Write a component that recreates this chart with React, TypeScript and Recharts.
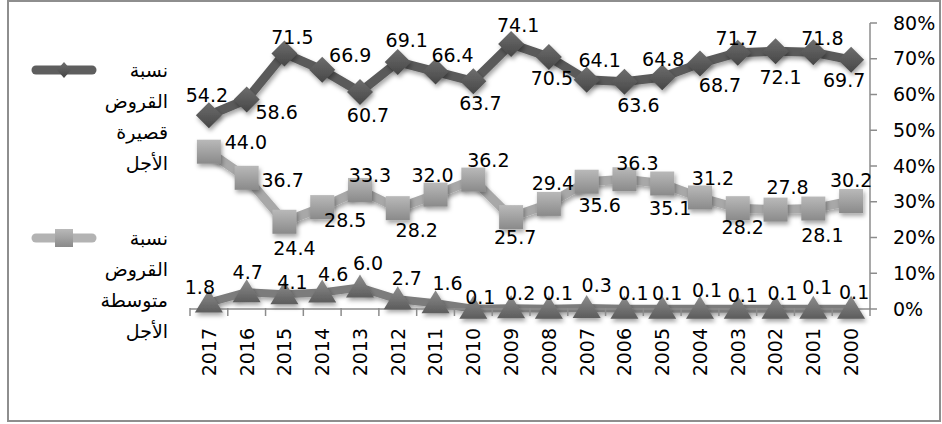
import { LineChart, Line, XAxis, YAxis, LabelList } from 'recharts'

// loan maturity shares (%), newest year first
const years = ['2017', '2016', '2015', '2014', '2013', '2012', '2011', '2010', '2009', '2008', '2007', '2006', '2005', '2004', '2003', '2002', '2001', '2000']
const shortTerm = [54.2, 58.6, 71.5, 66.9, 60.7, 69.1, 66.4, 63.7, 74.1, 70.5, 64.1, 63.6, 64.8, 68.7, 71.7, 72.1, 71.8, 69.7]
const mediumTerm = [44.0, 36.7, 24.4, 28.5, 33.3, 28.2, 32.0, 36.2, 25.7, 29.4, 35.6, 36.3, 35.1, 31.2, 28.2, 27.8, 28.1, 30.2]
const longTerm = [1.8, 4.7, 4.1, 4.6, 6.0, 2.7, 1.6, 0.1, 0.2, 0.1, 0.3, 0.1, 0.1, 0.1, 0.1, 0.1, 0.1, 0.1]
const yTicks = [0, 10, 20, 30, 40, 50, 60, 70, 80]

const shortName = 'نسبة القروض قصيرة الأجل'
const mediumName = 'نسبة القروض متوسطة الأجل'

// hand-placed label offsets (dx, dy) from each point
const shortNudge: [number, number][] = [
  [-2, -20], [30, 12], [8, -16], [28, -15], [8, 23], [9, -22], [17, -17], [7, 22], [7, -19],
  [3, 21], [13, -20], [14, 23], [1, -18], [20, 22], [-1, -15], [5, 26], [9, -14], [-7, 20],
]
const mediumNudge: [number, number][] = [
  [37, -10], [36, 2], [10, 26], [23, 13], [10, -15], [19, 22], [-3, -20], [15, -20], [4, 20],
  [4, -21], [13, 23], [13, -16], [8, 24], [13, -19], [5, 19], [12, -23], [9, 26], [0, -21],
]
const longNudge: [number, number][] = [
  [-9, -16], [1, -20], [8, -12], [11, -19], [8, -25], [9, -21], [12, -20], [7, -12], [9, -15],
  [9, -16], [10, -23], [9, -16], [5, -16], [7, -19], [5, -14], [7, -16], [4, -22], [3, -17],
]

const data = years.map((year, i) => ({
  year,
  short: shortTerm[i],
  medium: mediumTerm[i],
  long: longTerm[i],
}))

const FONT = '"DejaVu Sans", "Noto Sans", sans-serif'
const FS = 19
const W = 942
const H = 424
const M = { top: 23, right: 0, bottom: 0, left: 190 }
const Y_AXIS_W = 72
const BAND = (W - M.left - M.right - Y_AXIS_W) / years.length

const Diamond = ({ cx, cy, r = 13 }: any) => (
  <polygon
    points={`${cx},${cy - r} ${cx + r},${cy} ${cx},${cy + r} ${cx - r},${cy}`}
    fill="url(#gDiamond)"
    filter="url(#markShadow)"
  />
)

const Square = ({ cx, cy, s = 12 }: any) => (
  <rect x={cx - s} y={cy - s} width={s * 2} height={s * 2} fill="url(#gSquare)" filter="url(#markShadow)" />
)

const Triangle = ({ cx, cy }: any) => (
  <polygon
    points={`${cx},${cy - 13} ${cx + 14},${cy + 10} ${cx - 14},${cy + 10}`}
    fill="url(#gTriangle)"
    filter="url(#markShadow)"
  />
)

const makeLabel = (nudge: [number, number][]) => (props: any) => {
  const { x, y, value, index } = props
  const [dx, dy] = nudge[index] ?? [0, -18]
  return (
    <text
      x={x + dx}
      y={y + dy}
      textAnchor="middle"
      dominantBaseline="central"
      fontSize={FS}
      fontFamily={FONT}
      fill="#000"
    >
      {Number(value).toFixed(1)}
    </text>
  )
}

const YearTick = ({ x, y, payload, index }: any) => {
  const half = BAND / 2
  return (
    <g>
      <line x1={x - half} y1={y - 1} x2={x - half} y2={y + 7} stroke="#8c8c8c" strokeWidth={1.5} />
      {index === years.length - 1 && (
        <line x1={x + half} y1={y - 1} x2={x + half} y2={y + 7} stroke="#8c8c8c" strokeWidth={1.5} />
      )}
      <text
        transform={`translate(${x},${y + 19}) rotate(-90)`}
        textAnchor="end"
        dy="0.36em"
        fontSize={FS}
        fontFamily={FONT}
        fill="#000"
      >
        {payload.value}
      </text>
    </g>
  )
}

const LegendEntry = ({ top, name, color, marker }: any) => (
  <>
    <svg style={{ position: 'absolute', left: 30, top: top - 15 }} width={68} height={30}>
      <line x1={6} y1={15} x2={62} y2={15} stroke={color} strokeWidth={9} strokeLinecap="round" />
      {marker}
    </svg>
    <div
      style={{
        position: 'absolute',
        left: 88,
        top: top - 15.5,
        width: 80,
        textAlign: 'right',
        direction: 'rtl',
        fontFamily: FONT,
        fontSize: 19,
        lineHeight: '31px',
        color: '#000',
      }}
    >
      {name.split(' ').map((w: string) => (
        <div key={w}>{w}</div>
      ))}
    </div>
  </>
)

export default function App() {
  return (
    <div style={{ position: 'absolute', left: 0, top: 0, width: W, height: H, background: '#fff' }}>
      <svg width={0} height={0} style={{ position: 'absolute' }}>
        <defs>
          <linearGradient id="gDiamond" x1="0" y1="0" x2="0" y2="1">
            <stop offset="0%" stopColor="#6e6e6e" />
            <stop offset="100%" stopColor="#464646" />
          </linearGradient>
          <linearGradient id="gSquare" x1="0" y1="0" x2="0" y2="1">
            <stop offset="0%" stopColor="#b9b9b9" />
            <stop offset="100%" stopColor="#8a8a8a" />
          </linearGradient>
          <linearGradient id="gTriangle" x1="0" y1="0" x2="0" y2="1">
            <stop offset="0%" stopColor="#8e8e8e" />
            <stop offset="100%" stopColor="#5c5c5c" />
          </linearGradient>
          <filter id="markShadow" x="-50%" y="-50%" width="200%" height="200%">
            <feDropShadow dx="1.5" dy="3" stdDeviation="2.2" floodColor="#000" floodOpacity="0.35" />
          </filter>
        </defs>
      </svg>

      <div
        style={{
          position: 'absolute',
          left: 7,
          top: 0,
          width: 934,
          height: 422,
          border: '2px solid #8e8e8e',
          boxSizing: 'border-box',
        }}
      />

      <div style={{ position: 'absolute', left: 0, top: 0 }}>
        <LineChart width={W} height={H} data={data} margin={M}>
          <XAxis
            dataKey="year"
            scale="band"
            height={H - 309 - M.bottom}
            tickSize={0}
            tickMargin={0}
            tick={<YearTick />}
            interval={0}
            stroke="#8c8c8c"
            strokeWidth={1.5}
          />
          <YAxis
            orientation="right"
            width={Y_AXIS_W}
            domain={[0, 80]}
            ticks={yTicks}
            tickFormatter={(v: number) => `${v}%`}
            tickSize={7}
            tickMargin={16}
            stroke="#8c8c8c"
            strokeWidth={1.5}
            tick={{ fontSize: FS, fontFamily: FONT, fill: '#000' }}
          />
          <Line
            dataKey="short"
            stroke="#5a5a5a"
            strokeWidth={9}
            strokeLinejoin="round"
            filter="url(#markShadow)"
            dot={(p: any) => <Diamond key={`d${p.index}`} cx={p.cx} cy={p.cy} />}
            isAnimationActive={false}
          >
            <LabelList dataKey="short" content={makeLabel(shortNudge)} />
          </Line>
          <Line
            dataKey="medium"
            stroke="#a8a8a8"
            strokeWidth={9}
            strokeLinejoin="round"
            filter="url(#markShadow)"
            dot={(p: any) => <Square key={`s${p.index}`} cx={p.cx} cy={p.cy} />}
            isAnimationActive={false}
          >
            <LabelList dataKey="medium" content={makeLabel(mediumNudge)} />
          </Line>
          <Line
            dataKey="long"
            stroke="#7c7c7c"
            strokeWidth={8}
            strokeLinejoin="round"
            filter="url(#markShadow)"
            dot={(p: any) => <Triangle key={`t${p.index}`} cx={p.cx} cy={p.cy} />}
            isAnimationActive={false}
          >
            <LabelList dataKey="long" content={makeLabel(longNudge)} />
          </Line>
        </LineChart>
      </div>

      <LegendEntry
        top={70}
        name={shortName}
        color="#5e5e5e"
        marker={<polygon points="34,7 41,15 34,23 27,15" fill="url(#gDiamond)" />}
      />
      <LegendEntry
        top={238}
        name={mediumName}
        color="#b3b3b3"
        marker={<rect x={25} y={6} width={18} height={18} fill="url(#gSquare)" />}
      />
    </div>
  )
}
